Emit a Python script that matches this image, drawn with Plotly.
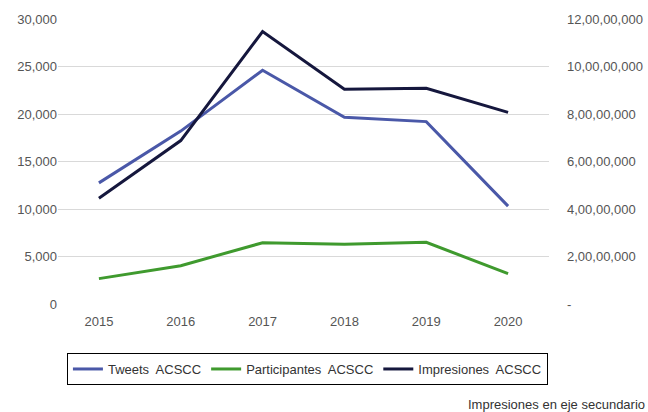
import plotly.graph_objects as go

years = ["2015", "2016", "2017", "2018", "2019", "2020"]
tweets = [12750, 18200, 24600, 19650, 19200, 10300]
participantes = [2670, 4030, 6450, 6280, 6490, 3200]
impresiones = [44500000, 68800000, 114700000, 90400000, 90800000, 80700000]

left_ticks = [0, 5000, 10000, 15000, 20000, 25000, 30000]
left_labels = ["0", "5,000", "10,000", "15,000", "20,000", "25,000", "30,000"]
right_ticks = [0, 20000000, 40000000, 60000000, 80000000, 100000000, 120000000]
right_labels = ["-", "2,00,00,000", "4,00,00,000", "6,00,00,000", "8,00,00,000",
                "10,00,00,000", "12,00,00,000"]

fig = go.Figure()
fig.add_trace(go.Scatter(x=years, y=tweets, name="Tweets  ACSCC", mode="lines",
                         line=dict(color="#4a58a8", width=3)))
fig.add_trace(go.Scatter(x=years, y=participantes, name="Participantes  ACSCC", mode="lines",
                         line=dict(color="#3f9a2e", width=3)))
fig.add_trace(go.Scatter(x=years, y=impresiones, name="Impresiones  ACSCC", mode="lines",
                         line=dict(color="#15173d", width=3), yaxis="y2"))

tickfont = dict(family="Liberation Sans, Arial, sans-serif", size=13, color="#555555")
fig.update_layout(
    width=648, height=412,
    margin=dict(l=58, r=99, t=19, b=108, autoexpand=False),
    paper_bgcolor="white", plot_bgcolor="white",
    font=dict(family="Liberation Sans, Arial, sans-serif", size=13, color="#333333"),
    xaxis=dict(type="category", tickfont=tickfont, showgrid=False, showline=False,
               ticks="", range=[-0.5, 5.5], ticklabelstandoff=8),
    yaxis=dict(range=[0, 30000], tickvals=left_ticks, ticktext=left_labels,
               tickfont=tickfont, showgrid=True, gridcolor="#d9d9d9", gridwidth=1,
               zeroline=False, ticks="", ticklen=0),
    yaxis2=dict(range=[0, 120000000], tickvals=right_ticks, ticktext=right_labels,
                tickfont=tickfont, overlaying="y", side="right", showgrid=False,
                zeroline=False, ticks="", ticklen=0, ticklabelstandoff=17),
    legend=dict(orientation="h", x=0.508, xanchor="center", y=-0.172, yanchor="top",
                bordercolor="black", borderwidth=1, bgcolor="white",
                font=dict(family="Liberation Sans, Arial, sans-serif", size=13, color="#333333"),
                itemwidth=30, tracegroupgap=0),
    annotations=[dict(text="Impresiones en eje secundario", xref="paper", yref="paper",
                      x=1.2, y=-0.351, xanchor="right", yanchor="middle", showarrow=False,
                      font=dict(family="Liberation Sans, Arial, sans-serif", size=13,
                                color="#333333"))],
    showlegend=True,
)

fig.write_html("out.html", config={"displayModeBar": False},
               post_script="document.body.style.margin='0px';document.body.style.padding='0px';")
